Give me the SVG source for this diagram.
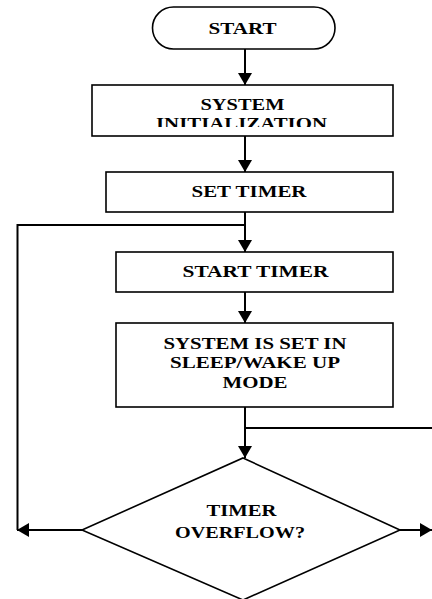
<svg xmlns="http://www.w3.org/2000/svg" width="432" height="599" viewBox="0 0 432 599">
<style>
.box{fill:#fff;stroke:#000;stroke-width:1.6}
.t{font-family:"Liberation Serif","Times New Roman",serif;font-weight:bold;font-size:17px;fill:#000;text-anchor:middle}
.c{fill:none;stroke:#000;stroke-width:2}
</style>
<defs>
<marker id="ah" markerUnits="userSpaceOnUse" markerWidth="14" markerHeight="14" refX="12" refY="7" orient="auto">
<path d="M0,0 L12,7 L0,14 Z" fill="#000"/>
</marker>
<clipPath id="initclip"><rect x="92" y="85" width="301" height="42"/></clipPath>
</defs>
<rect width="432" height="599" fill="#fff"/>
<g id="connectors">
<line class="c" x1="245" y1="49" x2="245" y2="85" marker-end="url(#ah)"/>
<line class="c" x1="245" y1="136" x2="245" y2="172" marker-end="url(#ah)"/>
<line class="c" x1="245" y1="212" x2="245" y2="252" marker-end="url(#ah)"/>
<line class="c" x1="245" y1="292" x2="245" y2="323" marker-end="url(#ah)"/>
<line class="c" x1="245" y1="407" x2="245" y2="458" marker-end="url(#ah)"/>
<polyline class="c" points="245,225 17.5,225 17.5,530"/>
<line class="c" x1="245" y1="428" x2="432" y2="428"/>
<line class="c" x1="82" y1="530" x2="17" y2="530" marker-end="url(#ah)"/>
<line class="c" x1="400" y1="530" x2="432" y2="530" marker-end="url(#ah)"/>
</g>
<g id="start">
<rect class="box" x="152.5" y="7" width="182.5" height="42" rx="21" ry="21"/>
<text class="t" x="242.5" y="34" textLength="68" lengthAdjust="spacingAndGlyphs">START</text>
</g>
<g id="init">
<rect class="box" x="92" y="85" width="301" height="51"/>
<text class="t" x="242.5" y="110" textLength="84" lengthAdjust="spacingAndGlyphs">SYSTEM</text>
<text class="t" x="241.5" y="129" textLength="171" lengthAdjust="spacingAndGlyphs" clip-path="url(#initclip)">INITIALIZATION</text>
</g>
<g id="settimer">
<rect class="box" x="106" y="172" width="287" height="40"/>
<text class="t" x="249" y="197" textLength="115" lengthAdjust="spacingAndGlyphs">SET TIMER</text>
</g>
<g id="starttimer">
<rect class="box" x="116" y="252" width="277" height="40"/>
<text class="t" x="255.5" y="276.5" textLength="146" lengthAdjust="spacingAndGlyphs">START TIMER</text>
</g>
<g id="sleep">
<rect class="box" x="116" y="323" width="277" height="84"/>
<text class="t" x="255" y="348.5" textLength="183" lengthAdjust="spacingAndGlyphs">SYSTEM IS SET IN</text>
<text class="t" x="255" y="367.5" textLength="170" lengthAdjust="spacingAndGlyphs">SLEEP/WAKE UP</text>
<text class="t" x="255" y="387.5" textLength="65" lengthAdjust="spacingAndGlyphs">MODE</text>
</g>
<g id="overflow">
<polygon class="box" points="243,458 400,530 243,600 82,530"/>
<text class="t" x="241.5" y="515.5" textLength="70" lengthAdjust="spacingAndGlyphs">TIMER</text>
<text class="t" x="240" y="537.5" textLength="130" lengthAdjust="spacingAndGlyphs">OVERFLOW?</text>
</g>
</svg>
